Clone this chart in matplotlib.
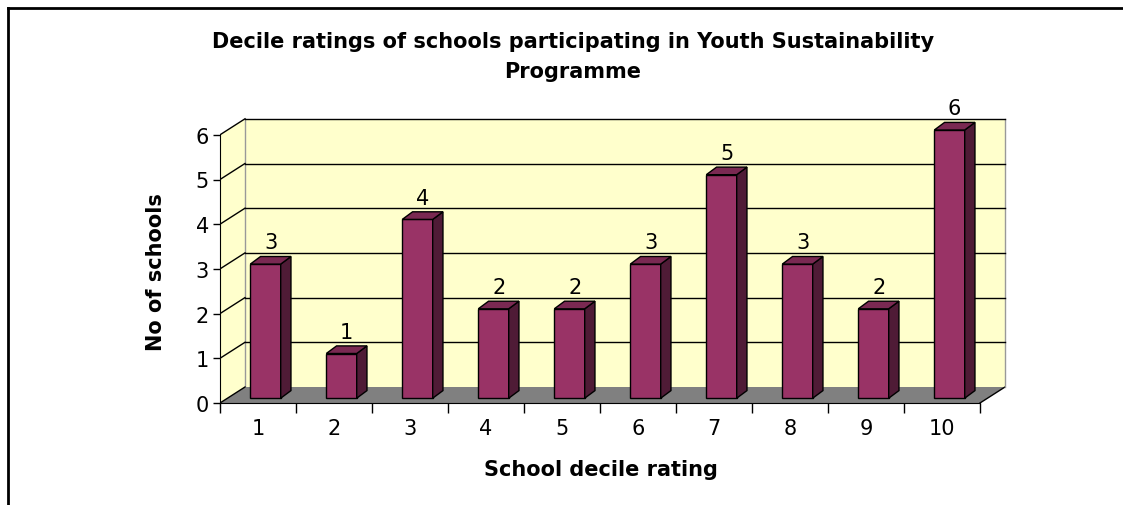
import numpy as np
import matplotlib.pyplot as plt
from matplotlib.patches import Polygon
from matplotlib.lines import Line2D

plt.rcParams['font.family'] = ['DejaVu Sans']

#------------------------------------------------------------------------------
# data
categories = ['1', '2', '3', '4', '5', '6', '7', '8', '9', '10']
schools = [3, 1, 4, 2, 2, 3, 5, 3, 2, 6]
yticks = [0, 1, 2, 3, 4, 5, 6]

title = 'Decile ratings of schools participating in Youth Sustainability\nProgramme'
xlabel = 'School decile rating'
ylabel = 'No of schools'

#------------------------------------------------------------------------------
# styling / 3d look
front_col = '#993366'
top_col = '#7a2952'
side_col = '#4f1b36'
wall_col = '#ffffcc'
floor_col = '#808080'

DX, DY = 25 / 76, 16 / 44.7      # depth of the chart box (data units)
F0 = 0.30                        # where the bar front sits in the depth
BW = 0.40                        # bar width
BDX, BDY = 0.135, 0.17           # bar depth
FS = 15

W, H = 1123, 506
fig = plt.figure(figsize=(W / 100, H / 100), dpi=100)
ax = fig.add_axes([220 / W, 102 / H, 790 / W, 289 / H])
ax.set_xlim(0, 790 / 76)
ax.set_ylim(0, 289 / 44.7)
ax.patch.set_visible(False)

n = len(categories)
ymax = yticks[-1]

# walls and floor
ax.add_patch(Polygon([(0, 0), (DX, DY), (DX, ymax + DY), (0, ymax)],
                     closed=True, facecolor=wall_col, edgecolor='none', zorder=1))
ax.add_patch(Polygon([(DX, DY), (n + DX, DY), (n + DX, ymax + DY), (DX, ymax + DY)],
                     closed=True, facecolor=wall_col, edgecolor='none', zorder=1))
ax.add_patch(Polygon([(0, 0), (n, 0), (n + DX, DY), (DX, DY)],
                     closed=True, facecolor=floor_col, edgecolor='none', zorder=1))
ax.plot([n, n + DX], [0, DY], color='black', lw=1, zorder=2)
ax.plot([DX, DX], [DY, ymax + DY], color='#999999', lw=1, zorder=2)
ax.plot([n + DX, n + DX], [DY, ymax + DY], color='#999999', lw=1, zorder=2)

# gridlines
for k in yticks:
    ax.plot([0, DX], [k, k + DY], color='black', lw=1, zorder=2)
    if k > 0:
        ax.plot([DX, n + DX], [k + DY, k + DY], color='black', lw=1, zorder=2)

# bars
for i, v in enumerate(schools):
    x0 = i + 0.5 - BW / 2 + F0 * DX
    x1 = x0 + BW
    y0 = F0 * DY
    y1 = y0 + v
    z = 3 + i
    ax.add_patch(Polygon([(x0, y0), (x1, y0), (x1, y1), (x0, y1)], closed=True,
                         facecolor=front_col, edgecolor='black', lw=1, zorder=z))
    ax.add_patch(Polygon([(x1, y0), (x1 + BDX, y0 + BDY), (x1 + BDX, y1 + BDY), (x1, y1)],
                         closed=True, facecolor=side_col, edgecolor='black', lw=1, zorder=z))
    ax.add_patch(Polygon([(x0, y1), (x1, y1), (x1 + BDX, y1 + BDY), (x0 + BDX, y1 + BDY)],
                         closed=True, facecolor=top_col, edgecolor='black', lw=1, zorder=z))
    ax.annotate(str(v), ((x0 + x1 + BDX) / 2, y1 + BDY), xytext=(0, 3),
                textcoords='offset points', ha='center', va='bottom',
                fontsize=FS, zorder=20)

# axes
for s in ['top', 'right']:
    ax.spines[s].set_visible(False)
ax.spines['left'].set_bounds(0, ymax)
ax.spines['bottom'].set_bounds(0, n)
ax.spines['left'].set_zorder(15)
ax.spines['bottom'].set_zorder(15)
ax.set_yticks(yticks)
ax.set_yticklabels([str(t) for t in yticks], fontsize=FS)
ax.tick_params(axis='y', direction='out', length=5, width=1, pad=3)
ax.set_xticks(np.arange(n + 1))
ax.set_xticklabels([])
ax.set_xticks(np.arange(n) + 0.5, minor=True)
ax.set_xticklabels(categories, minor=True, fontsize=FS)
ax.tick_params(axis='x', which='major', direction='out', length=7, width=1)
ax.tick_params(axis='x', which='minor', length=0, pad=11)

fig.text(601 / W, 1 - 470 / H, xlabel, ha='center', va='center',
         fontsize=FS, fontweight='bold')
fig.text(156 / W, 1 - 272 / H, ylabel, ha='center', va='center', rotation=90,
         fontsize=FS, fontweight='bold')
fig.text(573 / W, 1 - 57 / H, title, ha='center', va='center',
         fontsize=FS, fontweight='bold', linespacing=1.65)

# outer frame (top and left only)
fig.add_artist(Line2D([8 / W, 1], [1 - 9 / H, 1 - 9 / H], color='black', lw=2))
fig.add_artist(Line2D([8 / W, 8 / W], [0, 1 - 9 / H], color='black', lw=2))

fig.savefig('out.png', dpi=100)
